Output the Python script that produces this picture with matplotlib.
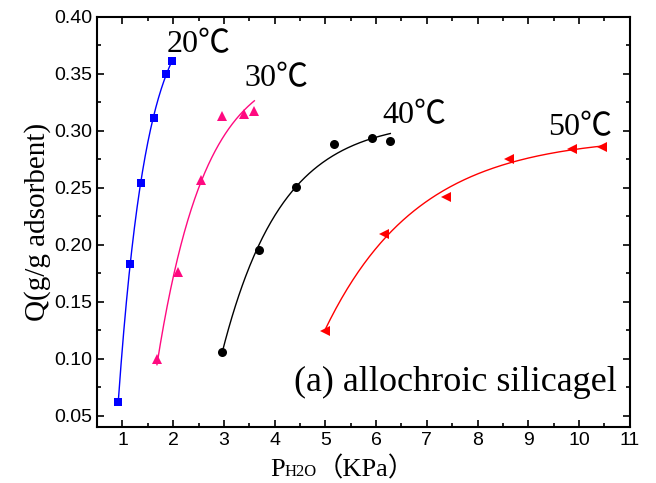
import numpy as np
import matplotlib
matplotlib.use('Agg')
import matplotlib.pyplot as plt
from matplotlib.ticker import MultipleLocator

# adsorption isotherms, P in KPa, Q in g/g adsorbent
p20 = [0.92, 1.14, 1.37, 1.62, 1.85, 1.97]
q20 = [0.062, 0.183, 0.254, 0.311, 0.350, 0.361]
p30 = [1.68, 2.10, 2.55, 2.97, 3.39, 3.60]
q30 = [0.100, 0.176, 0.257, 0.313, 0.315, 0.317]
p40 = [2.96, 3.69, 4.43, 5.17, 5.91, 6.28]
q40 = [0.106, 0.195, 0.251, 0.288, 0.294, 0.291]
p50 = [4.99, 6.15, 7.38, 8.62, 9.86, 10.46]
q50 = [0.124, 0.209, 0.242, 0.275, 0.284, 0.286]

temps = ['20℃', '30℃', '40℃', '50℃']
colors = ['#0000ff', '#ff0a80', '#000000', '#ff0000']
markers = ['s', '^', 'o', '<']
msizes = [6, 7.5, 6.5, 7.5]
label_pos = [(1.87, 0.376), (3.41, 0.346), (6.12, 0.313), (9.39, 0.303)]

SERIF = ['Liberation Serif', 'Noto Sans CJK SC']
W, H = 656, 483


def fit_curve(x, y, n=200):
    # y = a - b*exp(-c*x), scan c and solve a, b by least squares
    x = np.asarray(x)
    y = np.asarray(y)
    best = None
    for c in np.linspace(0.02, 4, 1500):
        A = np.column_stack([np.ones_like(x), -np.exp(-c * x)])
        coef = np.linalg.lstsq(A, y, rcond=None)[0]
        err = np.sum((A @ coef - y) ** 2)
        if best is None or err < best[0]:
            best = (err, c, coef)
    _, c, (a, b) = best
    xs = np.linspace(x.min(), x.max(), n)
    return xs, a - b * np.exp(-c * xs)


def text_run(fig, x, y, pieces):
    # lay out (string, size) pieces left to right on one baseline, in pixels
    r = fig.canvas.get_renderer()
    for s, size in pieces:
        t = fig.text(x / W, y / H, s, fontsize=size, family=SERIF,
                     ha='left', va='baseline')
        x += t.get_window_extent(r).width


fig = plt.figure(figsize=(W / 100, H / 100), dpi=100)
ax = fig.add_axes([0.148, 0.116, 0.812, 0.849])

data = [(p20, q20), (p30, q30), (p40, q40), (p50, q50)]
for i, (p, q) in enumerate(data):
    xs, ys = fit_curve(p, q)
    ax.plot(xs, ys, color=colors[i], lw=1.0)
    ax.plot(p, q, linestyle='none', marker=markers[i], ms=msizes[i],
            color=colors[i], markeredgewidth=0)
    ax.text(label_pos[i][0], label_pos[i][1], temps[i], fontsize=23,
            family=SERIF, va='center', ha='left')

ax.text(10.75, 0.079, '(a) allochroic silicagel', fontsize=26,
        family=SERIF, ha='right', va='center')

ax.set_xlim(0.5, 11)
ax.set_ylim(0.04, 0.40)
ax.xaxis.set_major_locator(MultipleLocator(1))
ax.xaxis.set_minor_locator(MultipleLocator(0.5))
ax.yaxis.set_major_locator(MultipleLocator(0.05))
ax.yaxis.set_minor_locator(MultipleLocator(0.025))
ax.tick_params(which='both', direction='in', top=True, right=True,
               labelsize=14, width=1.2)
ax.tick_params(which='major', length=5)
ax.tick_params(which='minor', length=3)
for lab in ax.get_xticklabels() + ax.get_yticklabels():
    lab.set_family('Liberation Sans')
for s in ax.spines.values():
    s.set_linewidth(1.5)

ax.set_ylabel('Q(g/g adsorbent)', fontsize=21, family=SERIF, labelpad=2)

# x label: P with small H2O, then (KPa) in full-width brackets
text_run(fig, 270, 7, [('P', 19), ('H2O', 12), ('（KPa）', 19)])

fig.savefig('out.png', dpi=100)
